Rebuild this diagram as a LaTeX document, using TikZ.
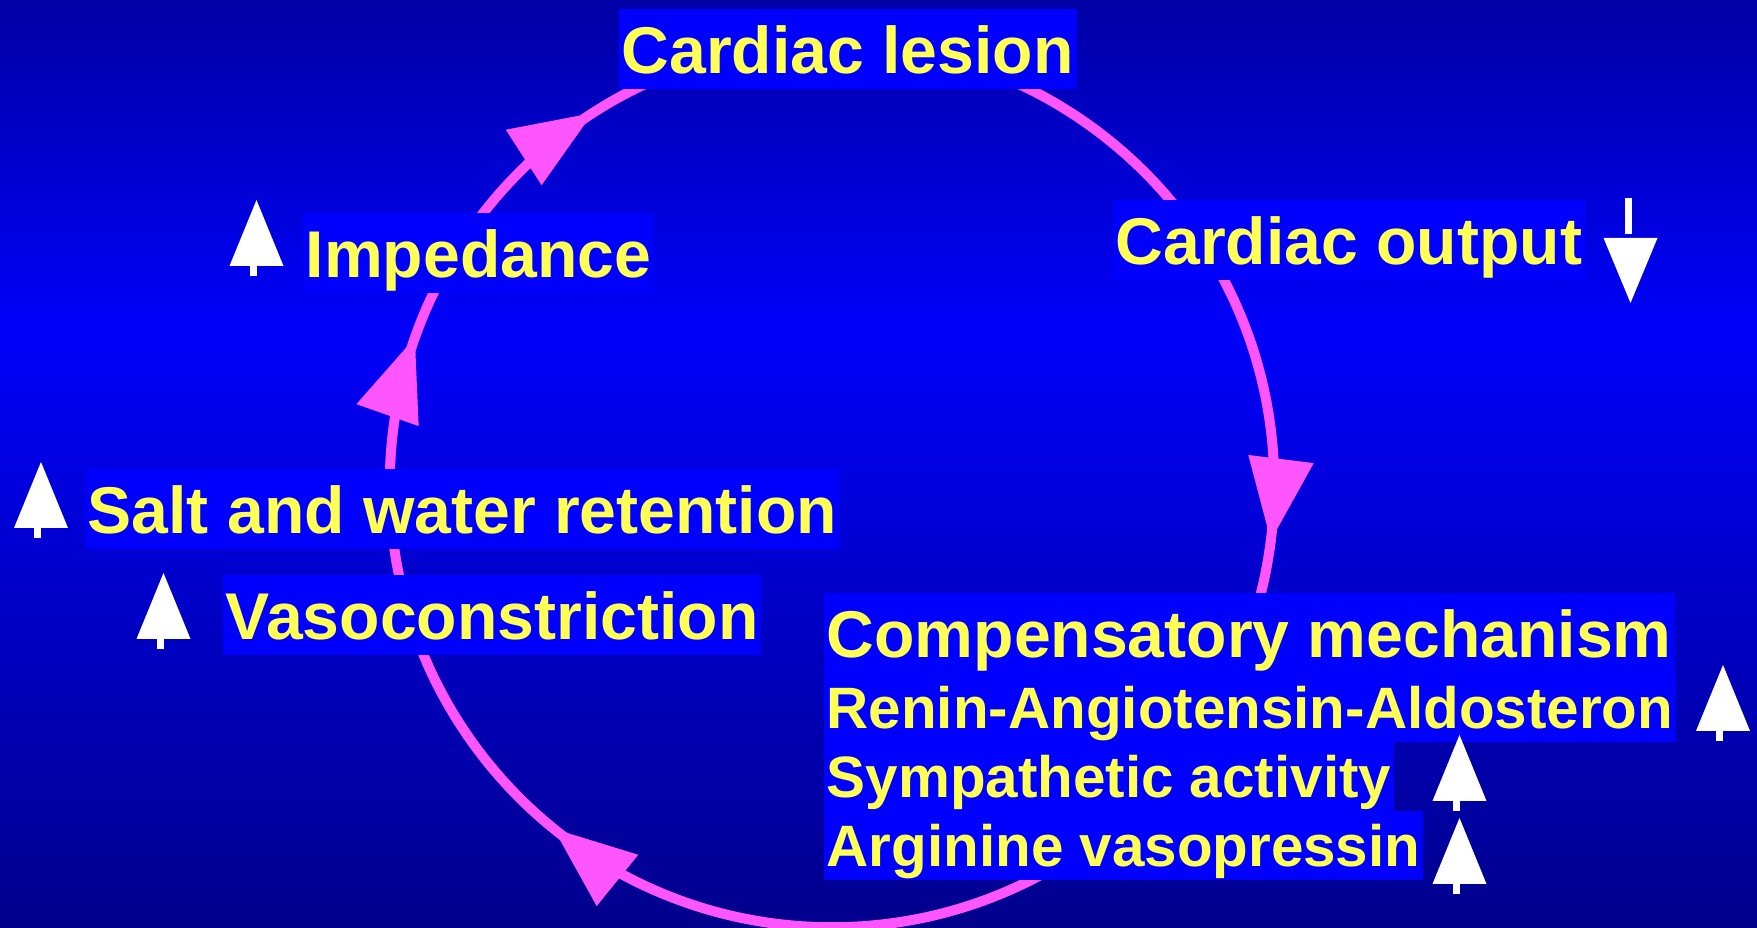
\documentclass[tikz,border=0pt]{standalone}
\usepackage{fontspec}
\setmainfont{Liberation Sans}
\usetikzlibrary{arrows.meta,decorations.markings}

\definecolor{bgtop}{RGB}{0,0,165}
\definecolor{bgmid}{RGB}{0,0,250}
\definecolor{bgbot}{RGB}{0,0,140}
\definecolor{boxblue}{RGB}{0,0,255}
\definecolor{lblyellow}{RGB}{255,255,85}
\definecolor{loopmagenta}{RGB}{255,85,255}

\newcommand{\lblfont}{\fontsize{18.8}{22}\selectfont\bfseries}
\newcommand{\sublblfont}{\fontsize{16.6}{20}\selectfont\bfseries}

\tikzset{
  lbl/.style={fill=boxblue, text=lblyellow, font=\lblfont, inner xsep=0.03cm, inner ysep=0pt,
    text height=0.65cm, text depth=0.15cm, anchor=base west},
  sublbl/.style={lbl, font=\sublblfont, text height=0.56cm, text depth=0.13cm},
  looptip/.tip={Triangle[length=0.82cm,width=0.66cm,line width=0pt]},
  loopline/.style={draw=loopmagenta, line width=0.1cm, postaction={decorate},
    decoration={markings,
      mark=at position 0.341 with {\arrowreversed{looptip}},
      mark=at position 0.446 with {\arrowreversed{looptip}},
      mark=at position 0.6417 with {\arrowreversed{looptip}},
      mark=at position 0.9800 with {\arrowreversed{looptip}}}},
  uparr/.pic={\fill[white] (-27,0) -- (0,66) -- (27,0) -- cycle;
    \fill[white] (-7,1) rectangle (0,-10);},
  downarr/.pic={\fill[white] (-27,0) -- (0,-65) -- (27,0) -- cycle;
    \fill[white] (-6,4) rectangle (1,40);}
}

\begin{document}
\begin{tikzpicture}[x=0.01cm,y=0.01cm]
\useasboundingbox (0,0) rectangle (1757,928);
\shade[top color=bgtop, bottom color=bgmid] (0,597) rectangle (1757,928);
\shade[top color=bgmid, bottom color=bgbot] (0,0) rectangle (1757,598);

\coordinate (hub) at (832,443);
\draw[loopline] (hub) circle[radius=4.42cm];

\node[lbl] (lesion) at (618,854) {Cardiac lesion};
\node[lbl] (output) at (1112,663) {Cardiac output};
\node[lbl] (imped) at (302,650) {Impedance};
\node[lbl] (salt) at (84,394) {Salt and water retention};
\node[lbl] (vaso) at (222,288) {Vasoconstriction};
\node[lbl] (comp) at (823,270) {Compensatory mechanism};
\node[sublbl] (raas) at (823,199) {Renin-Angiotensin-Aldosteron};
\node[sublbl] (symp) at (823,130) {Sympathetic activity};
\node[sublbl] (avp) at (823,61) {Arginine vasopressin};

\pic (upimped) at (256.5,662) {uparr};
\pic (upsalt) at (41,400) {uparr};
\pic (upvaso) at (163.5,289) {uparr};
\pic (upraas) at (1723,197) {uparr};
\pic (upsymp) at (1459.5,127) {uparr};
\pic (upavp) at (1459.5,44) {uparr};
\pic (downout) at (1630.5,690) {downarr};
\end{tikzpicture}
\end{document}
